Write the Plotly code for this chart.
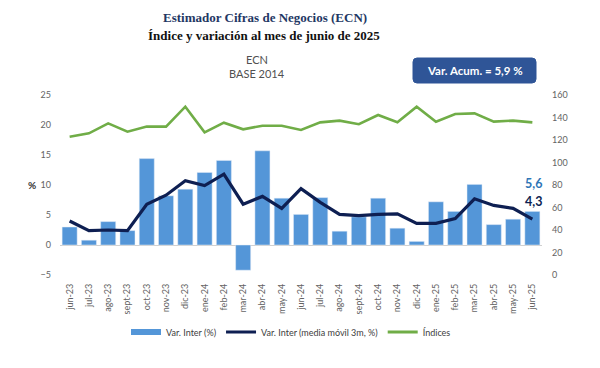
import plotly.graph_objects as go

months = ["jun-23", "jul-23", "ago-23", "sept-23", "oct-23", "nov-23", "dic-23", "ene-24",
          "feb-24", "mar-24", "abr-24", "may-24", "jun-24", "jul-24", "ago-24", "sept-24",
          "oct-24", "nov-24", "dic-24", "ene-25", "feb-25", "mar-25", "abr-25", "may-25", "jun-25"]

var_inter = [3.0, 0.8, 3.9, 2.4, 14.4, 8.2, 9.3, 12.1, 14.1, -4.2, 15.7, 7.8, 5.1, 7.9,
             2.3, 4.7, 7.8, 2.8, 0.6, 7.2, 5.6, 10.1, 3.4, 4.3, 5.6]

media_movil = [4.0, 2.4, 2.5, 2.4, 6.8, 8.3, 10.7, 9.9, 11.8, 6.8, 8.1, 6.1, 9.4, 7.1,
               5.1, 4.9, 5.1, 5.2, 3.6, 3.6, 4.4, 7.7, 6.6, 6.1, 4.3]

indices = [122.9, 125.9, 134.8, 127.4, 131.9, 131.9, 149.6, 126.8, 135.4, 129.5, 132.7,
           132.7, 128.9, 135.7, 137.2, 134.0, 142.2, 135.7, 149.6, 136.3, 143.1, 143.7,
           136.3, 137.2, 135.7]

left_ticks = [-5, 0, 5, 10, 15, 20, 25]
right_ticks = [0, 20, 40, 60, 80, 100, 120, 140, 160]

BAR = "#5496d8"
NAVY = "#0e1f52"
GREEN = "#70ad47"
TICK = "#636363"

# page body has an 8px margin; the figure is laid out to compensate
OFF = 8
W, H = 600 - OFF, 368 - OFF
PL, PR, PT, PB = 60 - OFF, 542 - OFF, 95 - OFF, 275 - OFF
PW, PH = PR - PL, PB - PT


def px(xpix):
    return (xpix - OFF - PL) / PW


def py(ypix):
    return (PB - (ypix - OFF)) / PH


fig = go.Figure()

fig.add_trace(go.Bar(x=months, y=var_inter, marker_color=BAR, showlegend=False,
                     name="Var. Inter (%)"))
fig.add_trace(go.Scatter(x=months, y=media_movil, mode="lines", line=dict(color=NAVY, width=3.2),
                         showlegend=False, name="Var. Inter (media móvil 3m, %)"))
fig.add_trace(go.Scatter(x=months, y=indices, mode="lines", line=dict(color=GREEN, width=2.6),
                         yaxis="y2", showlegend=False, name="Índices"))

# legend entries
fig.add_trace(go.Scatter(x=[None], y=[None], mode="lines", line=dict(color=BAR, width=6),
                         name="Var. Inter (%)"))
fig.add_trace(go.Scatter(x=[None], y=[None], mode="lines", line=dict(color=NAVY, width=3),
                         name="Var. Inter (media móvil 3m, %)"))
fig.add_trace(go.Scatter(x=[None], y=[None], mode="lines", line=dict(color=GREEN, width=3),
                         name="Índices"))

tick_font = dict(family="Lato, sans-serif", size=9, color=TICK)

fig.update_layout(
    width=W, height=H,
    margin=dict(l=PL, r=W - PR, t=PT, b=H - PB, autoexpand=False),
    paper_bgcolor="white", plot_bgcolor="white",
    bargap=0.22,
    showlegend=True,
    legend=dict(orientation="h", x=px(291), xanchor="center", y=py(332), yanchor="middle",
                font=dict(family="Lato, sans-serif", size=9, color="#404040"),
                itemwidth=30, tracegroupgap=0),
    xaxis=dict(type="category", tickangle=-90, tickfont=tick_font, showgrid=False,
               showline=False, ticks="", ticklabelstandoff=6, range=[-0.5, 24.5]),
    yaxis=dict(range=[-5, 25], tickvals=left_ticks, tickfont=tick_font, showgrid=False,
               zeroline=True, zerolinecolor="#d0d0d0", zerolinewidth=1, showline=False,
               ticks="", ticklabelstandoff=8),
    yaxis2=dict(range=[0, 160], tickvals=right_ticks, overlaying="y", side="right",
                tickfont=tick_font, showgrid=False, zeroline=False, showline=False,
                ticks="", ticklabelstandoff=9),
)

annotations = [
    dict(text="<b>Estimador Cifras de Negocios (ECN)</b>", x=px(265), y=py(17), xref="paper",
         yref="paper", showarrow=False, xanchor="center", yanchor="middle",
         font=dict(family="Liberation Serif, serif", size=13, color="#1f3864")),
    dict(text="<b>Índice y variación al mes de junio de 2025</b>", x=px(264), y=py(35),
         xref="paper", yref="paper", showarrow=False, xanchor="center", yanchor="middle",
         font=dict(family="Liberation Serif, serif", size=13, color="#111111")),
    dict(text="ECN", x=px(257), y=py(59), xref="paper", yref="paper", showarrow=False,
         xanchor="center", yanchor="middle",
         font=dict(family="Lato, sans-serif", size=11, color="#505050")),
    dict(text="BASE 2014", x=px(257), y=py(73), xref="paper", yref="paper",
         showarrow=False, xanchor="center", yanchor="middle",
         font=dict(family="Lato, sans-serif", size=11, color="#505050")),
    dict(text="<b>Var. Acum. = 5,9 %</b>", x=px(474.5), y=py(70.5),
         xref="paper", yref="paper", showarrow=False, xanchor="center", yanchor="middle",
         font=dict(family="Lato, sans-serif", size=11.5, color="white")),
    dict(text="<b>%</b>", x=px(32), y=10, xref="paper", yref="y", showarrow=False,
         xanchor="center", yanchor="middle",
         font=dict(family="Lato, sans-serif", size=10, color="#333333")),
    dict(text="<b>" + f"{var_inter[-1]:.1f}".replace(".", ",") + "</b>", x=months[-1],
         y=var_inter[-1], xref="x", yref="y", showarrow=False, xanchor="center",
         yanchor="middle", yshift=28, xshift=1,
         font=dict(family="Lato, sans-serif", size=12.5, color="#2e75b6")),
    dict(text="<b>" + f"{media_movil[-1]:.1f}".replace(".", ",") + "</b>", x=months[-1],
         y=media_movil[-1], xref="x", yref="y", showarrow=False, xanchor="center",
         yanchor="middle", yshift=18, xshift=1,
         font=dict(family="Lato, sans-serif", size=12.5, color=NAVY)),
]
fig.update_layout(annotations=annotations)

# rounded box behind "Var. Acum."
x0, x1 = px(413), px(536)
y0, y1 = py(83), py(58)
rx, ry = 4 / PW, 4 / PH
path = (f"M {x0+rx},{y0} L {x1-rx},{y0} Q {x1},{y0} {x1},{y0+ry} L {x1},{y1-ry} "
        f"Q {x1},{y1} {x1-rx},{y1} L {x0+rx},{y1} Q {x0},{y1} {x0},{y1-ry} "
        f"L {x0},{y0+ry} Q {x0},{y0} {x0+rx},{y0} Z")
fig.add_shape(type="path", path=path, xref="paper", yref="paper",
              fillcolor="#2f5597", line=dict(color="#2f5597", width=1), layer="below")

fig.write_html("out.html")
